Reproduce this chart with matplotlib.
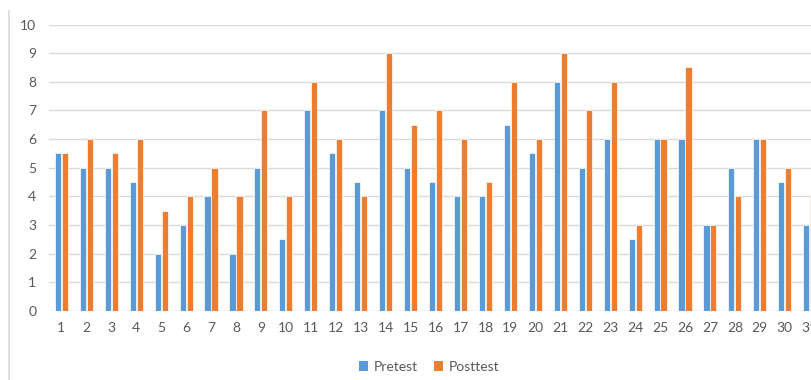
import matplotlib
matplotlib.use("Agg")
import matplotlib.pyplot as plt
import numpy as np
from matplotlib.patches import Patch
from matplotlib.lines import Line2D

plt.rcParams['font.family'] = ['Lato', 'DejaVu Sans']

categories = [str(i) for i in range(1, 32)]
pretest = [5.5, 5, 5, 4.5, 2, 3, 4, 2, 5, 2.5,
           7, 5.5, 4.5, 7, 5, 4.5, 4, 4, 6.5, 5.5,
           8, 5, 6, 2.5, 6, 6, 3, 5, 6, 4.5, 3]
posttest = [5.5, 6, 5.5, 6, 3.5, 4, 5, 4, 7, 4,
            8, 6, 4, 9, 6.5, 7, 6, 4.5, 8, 6,
            9, 7, 8, 3, 6, 8.5, 3, 4, 6, 5, 4]
series_names = ["Pretest", "Posttest"]
y_ticks = list(range(0, 11))

blue = "#5B9BD5"
orange = "#ED7D31"
text_col = "#595959"
grid_col = "#D9D9D9"

W, H = 811, 380
fig = plt.figure(figsize=(W / 100, H / 100), dpi=100)

left_px, right_px = 48.9, 822.2
bottom_px, top_px = 69, 355.5
ax = fig.add_axes([left_px / W, bottom_px / H,
                   (right_px - left_px) / W, (top_px - bottom_px) / H])

x = np.arange(len(categories))
bw = 0.245
off = 0.14
ax.bar(x - off, pretest, width=bw, color=blue, edgecolor="white",
       linewidth=0.5, zorder=3)
ax.bar(x + off, posttest, width=bw, color=orange, edgecolor="white",
       linewidth=0.5, zorder=3)

ax.set_xlim(-0.5, len(categories) - 0.5)
ax.set_ylim(0, 10)
ax.set_yticks(y_ticks)
ax.set_xticks(x)
ax.set_xticklabels(categories)
ax.yaxis.grid(True, color=grid_col, linewidth=1.0, zorder=0)
ax.set_axisbelow(True)
for s in ax.spines.values():
    s.set_visible(False)
ax.tick_params(axis="both", length=0, colors=text_col, labelsize=10)
ax.tick_params(axis="x", pad=8)
ax.tick_params(axis="y", pad=9)

# outer frame edge on the left
fig.add_artist(Line2D([8.5 / W, 8.5 / W], [0, (H - 11) / H],
                      color=grid_col, linewidth=1.2))

handles = [Patch(facecolor=blue, edgecolor="none"),
           Patch(facecolor=orange, edgecolor="none")]
fig.legend(handles, series_names, loc="center", bbox_to_anchor=(429 / W, 13 / H),
           ncol=2, frameon=False, handlelength=0.65, handleheight=0.65,
           handletextpad=0.4, columnspacing=1.2, fontsize=10,
           labelcolor=text_col)

fig.savefig("out.png", dpi=100)
